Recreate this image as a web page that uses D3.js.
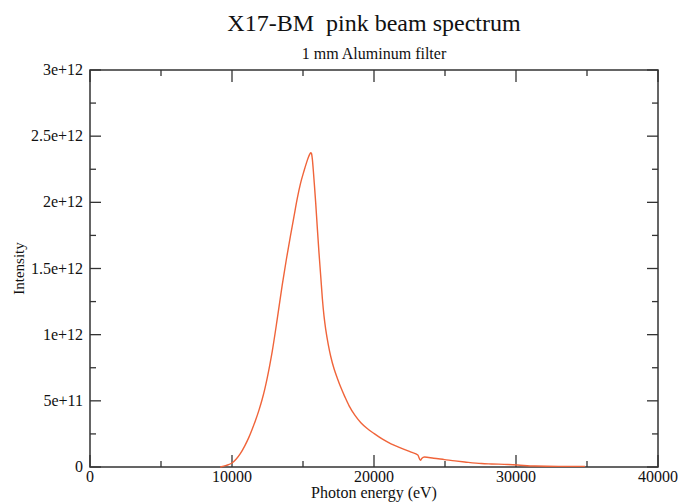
<!DOCTYPE html>
<html><head><meta charset="utf-8">
<script src="https://cdn.jsdelivr.net/npm/d3@7"></script>
<style>body{margin:0;background:#fff}svg{display:block}text{font-family:"Liberation Serif","Times New Roman",serif;fill:#111}</style>
</head><body>
<script>
const energy = [9170,9600,10000,10300,10585,10900,11172,11400,11647,11900,12121,12300,12475,12650,12828,13182,13536,13830,14123,14360,14597,14830,15064,15250,15380,15468,15540,15600,15660,15720,15790,15892,16000,16125,16250,16366,16480,16600,16780,16954,17187,17450,17661,17950,18248,18650,19076,19500,20017,20600,21198,21906,22613,23087,23272,23360,23555,24200,24970,25700,26385,27566,28274,29456,30114,31317,33000,34855];
const intensity = [0,0.012,0.030,0.060,0.101,0.160,0.220,0.280,0.350,0.430,0.510,0.585,0.670,0.765,0.870,1.115,1.375,1.570,1.750,1.890,2.030,2.145,2.235,2.300,2.340,2.362,2.376,2.368,2.325,2.250,2.150,2.000,1.820,1.620,1.440,1.270,1.140,1.040,0.925,0.835,0.742,0.662,0.602,0.530,0.462,0.392,0.335,0.293,0.252,0.210,0.175,0.143,0.112,0.090,0.050,0.064,0.076,0.066,0.056,0.046,0.038,0.026,0.023,0.019,0.015,0.007,0.005,0.005].map(v=>v*1e12);
const xTicks = [0,10000,20000,30000,40000];
const xMinor = [5000,15000,25000,35000];
const yTicks = [0,5e11,1e12,1.5e12,2e12,2.5e12,3e12];
const yTickLabels = ["0","5e+11","1e+12","1.5e+12","2e+12","2.5e+12","3e+12"];
const yMinor = [2.5e11,7.5e11,1.25e12,1.75e12,2.25e12,2.75e12];

const W=678,H=502, L=90, R=658, T=70, B=467;
const svg=d3.select("body").append("svg").attr("width",W).attr("height",H);
const x=d3.scaleLinear().domain([0,40000]).range([L,R]);
const y=d3.scaleLinear().domain([0,3e12]).range([B,T]);
const ax="#333";

// frame
svg.append("rect").attr("x",L).attr("y",T).attr("width",R-L).attr("height",B-T).attr("fill","none").attr("stroke",ax).attr("stroke-width",1.5);

// ticks
function tk(x1,y1,x2,y2){svg.append("line").attr("x1",x1).attr("y1",y1).attr("x2",x2).attr("y2",y2).attr("stroke",ax).attr("stroke-width",1.3);}
xTicks.forEach(v=>{tk(x(v),B,x(v),B-12);tk(x(v),T,x(v),T+12);});
xMinor.forEach(v=>{tk(x(v),B,x(v),B-6);tk(x(v),T,x(v),T+6);});
yTicks.forEach(v=>{tk(L,y(v),L+11,y(v));tk(R,y(v),R-11,y(v));});
yMinor.forEach(v=>{tk(L,y(v),L+6,y(v));tk(R,y(v),R-6,y(v));});

// labels
svg.selectAll(".xl").data(xTicks).enter().append("text").attr("x",d=>x(d)).attr("y",B+15).attr("text-anchor","middle").attr("font-size",16).text(d=>d);
svg.selectAll(".yl").data(yTicks).enter().append("text").attr("x",L-7).attr("y",d=>y(d)+5).attr("text-anchor","end").attr("font-size",16).text((d,i)=>yTickLabels[i]);

svg.append("text").attr("x",(L+R)/2).attr("y",31).attr("text-anchor","middle").attr("font-size",24).text("X17-BM\u00a0\u00a0pink beam spectrum");
svg.append("text").attr("x",(L+R)/2).attr("y",59).attr("text-anchor","middle").attr("font-size",16).text("1 mm Aluminum filter");
svg.append("text").attr("x",(L+R)/2).attr("y",498).attr("text-anchor","middle").attr("font-size",16).text("Photon energy (eV)");
svg.append("text").attr("transform",`translate(24,${(T+B)/2}) rotate(-90)`).attr("text-anchor","middle").attr("font-size",15).text("Intensity");

// curve
const data=energy.map((e,i)=>[e,intensity[i]]);
svg.append("path").datum(data).attr("fill","none").attr("stroke","#f0643a").attr("stroke-width",1.4)
 .attr("d",d3.line().x(d=>x(d[0])).y(d=>y(d[1])).curve(d3.curveMonotoneX));
</script>
</body></html>
